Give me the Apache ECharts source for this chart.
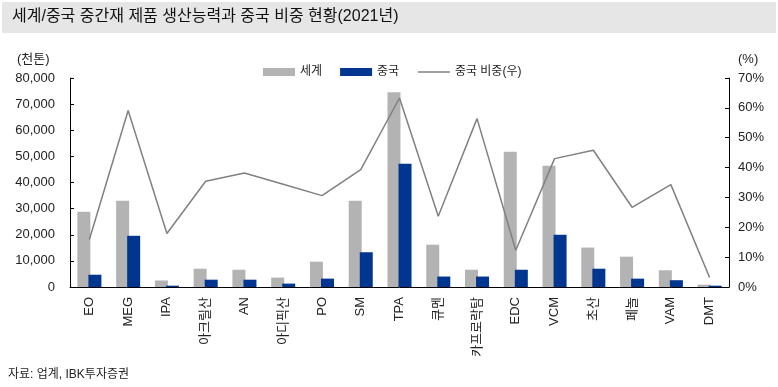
<!DOCTYPE html>
<html>
<head>
<meta charset="utf-8">
<script src="https://cdn.jsdelivr.net/npm/echarts@6/dist/echarts.min.js"></script>
<style>
html,body{margin:0;padding:0;background:#fff;}
#chart{width:778px;height:387px;}
</style>
</head>
<body>
<div id="chart"></div>
<script>
var categories = ['EO','MEG','IPA','아크릴산','AN','아디픽산','PO','SM','TPA','큐멘','카프로락탐','EDC','VCM','초산','페놀','VAM','DMT'];
var worldValues = [28800, 33000, 2500, 7000, 6600, 3600, 9700, 33000, 74500, 16200, 6600, 51800, 46400, 15100, 11600, 6400, 900];
var chinaValues = [4700, 19600, 500, 2800, 2800, 1300, 3200, 13300, 47200, 4000, 4000, 6600, 20000, 7000, 3200, 2600, 500];
var chinaShare = [15.9, 59.1, 17.9, 35.4, 38.2, 34.4, 30.6, 39.3, 63.3, 23.7, 56.4, 12.3, 43.0, 45.8, 26.7, 34.3, 3.2];
var leftTicks = {min: 0, max: 80000, interval: 10000};
var rightTicks = {min: 0, max: 70, interval: 10};

var FONT = '"Liberation Sans", "Noto Sans CJK KR", sans-serif';
var chart = echarts.init(document.getElementById('chart'), null, {renderer: 'canvas'});
chart.setOption({
  animation: false,
  textStyle: {fontFamily: FONT},
  graphic: [
    {type: 'rect', left: 2, top: 2, shape: {width: 774, height: 31}, style: {fill: '#e6e6e6'}},
    {type: 'text', left: 12, top: 9, style: {text: '세계/중국 중간재 제품 생산능력과 중국 비중 현황(2021년)', font: '16px ' + FONT, fill: '#111'}},
    {type: 'text', left: 17, top: 53, style: {text: '(천톤)', font: '13px ' + FONT, fill: '#222'}},
    {type: 'text', left: 738, top: 53, style: {text: '(%)', font: '13px ' + FONT, fill: '#222'}},
    {type: 'text', left: 8, top: 369, style: {text: '자료: 업계, IBK투자증권', font: '12px ' + FONT, fill: '#222'}}
  ],
  legend: {
    top: 61, left: 258,
    itemWidth: 32, itemHeight: 8, itemGap: 18,
    textStyle: {fontSize: 12, color: '#222', fontFamily: FONT},
    data: [
      {name: '세계', icon: 'rect'},
      {name: '중국', icon: 'rect'},
      {name: '중국 비중(우)', itemStyle: {opacity: 0}, lineStyle: {color: '#808080', width: 1.5}}
    ]
  },
  grid: {left: 70, right: 49, top: 78, bottom: 100},
  xAxis: {
    type: 'category',
    data: categories,
    axisLine: {lineStyle: {color: '#000', width: 1}},
    axisTick: {inside: true, length: 4, lineStyle: {color: '#000'}},
    axisLabel: {rotate: 90, margin: 10, fontSize: 13, color: '#222', fontFamily: FONT}
  },
  yAxis: [
    {
      type: 'value', min: leftTicks.min, max: leftTicks.max, interval: leftTicks.interval,
      splitLine: {show: false},
      axisLine: {show: true, lineStyle: {color: '#000', width: 1}},
      axisTick: {show: true, inside: true, length: 4, lineStyle: {color: '#000'}},
      axisLabel: {margin: 15, fontSize: 13, color: '#222', fontFamily: FONT,
        formatter: function (v) { return v.toLocaleString('en-US'); }}
    },
    {
      type: 'value', min: rightTicks.min, max: rightTicks.max, interval: rightTicks.interval,
      position: 'right',
      splitLine: {show: false},
      axisLine: {show: true, lineStyle: {color: '#000', width: 1}},
      axisTick: {show: true, inside: true, length: 4, lineStyle: {color: '#000'}},
      axisLabel: {margin: 9, fontSize: 13, color: '#222', fontFamily: FONT, formatter: '{value}%'}
    }
  ],
  series: [
    {name: '세계', type: 'bar', data: worldValues, barWidth: 13, barGap: '-15%', itemStyle: {color: '#b3b3b3'}},
    {name: '중국', type: 'bar', data: chinaValues, barWidth: 13, itemStyle: {color: '#00368f'}},
    {name: '중국 비중(우)', type: 'line', yAxisIndex: 1, data: chinaShare, showSymbol: false, symbol: 'none',
      lineStyle: {color: '#808080', width: 1.5}, itemStyle: {color: '#808080'}, z: 3}
  ]
});
</script>
</body>
</html>
